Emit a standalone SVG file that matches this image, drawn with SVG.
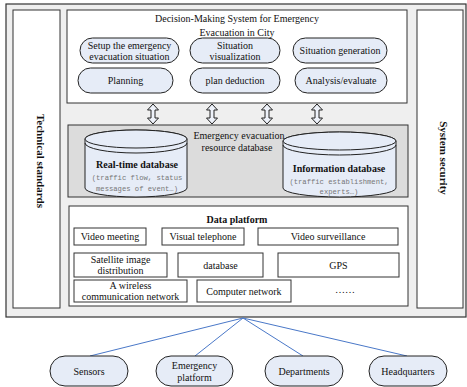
<svg xmlns="http://www.w3.org/2000/svg" xmlns:xlink="http://www.w3.org/1999/xlink" width="467" height="387" viewBox="0 0 467 387">
<style>
text{font-family:"Liberation Serif","Times New Roman",serif;fill:#111;}
.t{font-size:10px;text-anchor:middle;}
.b{font-weight:bold;}
.m{font-family:"Liberation Mono","Courier New",monospace;font-size:7.2px;fill:#777;text-anchor:middle;}
.box{fill:#fff;stroke:#333;stroke-width:1;}
.ov{fill:#e6ecf7;stroke:#222;stroke-width:1;}
.cyl{fill:#e6ecf7;stroke:#222;stroke-width:1;}
.conn{stroke:#4a78c8;stroke-width:1;fill:none;}
.arr{fill:#eef2fa;stroke:#222;stroke-width:1;}
</style>
<defs>
<path id="dbl" class="arr" d="M0,0 L5.5,6 L2,6 L2,14 L5.5,14 L0,20 L-5.5,14 L-2,14 L-2,6 L-5.5,6 Z"/>
</defs>

<g id="frame">
<rect x="6" y="4" width="460" height="313" fill="#efefef" stroke="#333" stroke-width="1.2"/>
</g>

<g id="technical-standards">
<rect class="box" x="13" y="10" width="47" height="298"/>
<text class="t b" font-size="11" transform="translate(37,161) rotate(90)" style="font-size:11px">Technical standards</text>
</g>

<g id="system-security">
<rect class="box" x="417" y="10" width="46" height="298"/>
<text class="t b" transform="translate(440,158) rotate(90)" style="font-size:11px">System security</text>
</g>

<g id="decision-system">
<rect class="box" x="67" y="10" width="340" height="93"/>
<text class="t" x="237" y="22">Decision-Making System for Emergency</text>
<text class="t" x="237" y="36">Evacuation in City</text>
</g>

<g id="setup">
<rect class="ov" x="80" y="38" width="99" height="25" rx="12.5"/>
<text class="t" x="129.5" y="48.5">Setup the emergency</text>
<text class="t" x="129.5" y="59.5">evacuation situation</text>
</g>
<g id="visualization">
<rect class="ov" x="190" y="38" width="90" height="25" rx="12.5"/>
<text class="t" x="235" y="48.5">Situation</text>
<text class="t" x="235" y="59.5">visualization</text>
</g>
<g id="generation">
<rect class="ov" x="293" y="38" width="94" height="25" rx="12.5"/>
<text class="t" x="340" y="54">Situation generation</text>
</g>
<g id="planning">
<rect class="ov" x="78" y="68" width="95" height="25" rx="12.5"/>
<text class="t" x="125.5" y="84">Planning</text>
</g>
<g id="deduction">
<rect class="ov" x="190" y="68" width="90" height="25" rx="12.5"/>
<text class="t" x="235" y="84">plan deduction</text>
</g>
<g id="analysis">
<rect class="ov" x="295" y="68" width="92" height="25" rx="12.5"/>
<text class="t" x="341" y="84">Analysis/evaluate</text>
</g>

<g id="resource-db">
<rect x="68" y="125" width="340" height="72" fill="#dcdcdc" stroke="#333" stroke-width="1"/>
</g>

<g id="realtime-db">
<path class="cyl" d="M85,139 L85,188 A51,9 0 0 0 187,188 L187,139 A51,9 0 0 0 85,139 Z"/>
<ellipse class="cyl" cx="136" cy="139" rx="51" ry="9"/>
<path d="M85,143 A51,10 0 0 0 187,143" fill="none" stroke="#222" stroke-width="1"/>
<text class="t b" x="137" y="168">Real-time database</text>
<text class="m" x="137" y="180">(traffic flow, status</text>
<text class="m" x="137" y="191">messages of event…)</text>
</g>

<g id="information-db">
<path class="cyl" d="M283,141 L283,188 A56.5,9 0 0 0 396,188 L396,141 A56.5,9 0 0 0 283,141 Z"/>
<ellipse class="cyl" cx="339.5" cy="141" rx="56.5" ry="9"/>
<path d="M283,145 A56.5,10 0 0 0 396,145" fill="none" stroke="#222" stroke-width="1"/>
<text class="t b" x="339" y="172">Information database</text>
<text class="m" x="339" y="184">(traffic establishment,</text>
<text class="m" x="339" y="194">experts…)</text>
</g>

<g id="resource-label">
<text class="t" x="239" y="139">Emergency evacuation</text>
<text class="t" x="237" y="151">resource database</text>
</g>

<g id="data-platform">
<rect class="box" x="69" y="206" width="339" height="100"/>
<text class="t b" x="237" y="223">Data platform</text>
</g>
<g id="video-meeting"><rect class="box" x="74" y="228" width="72" height="17"/><text class="t" x="110" y="240">Video meeting</text></g>
<g id="visual-telephone"><rect class="box" x="162" y="228" width="82" height="17"/><text class="t" x="203" y="240">Visual telephone</text></g>
<g id="video-surveillance"><rect class="box" x="258" y="228" width="140" height="17"/><text class="t" x="328" y="240">Video surveillance</text></g>
<g id="satellite"><rect class="box" x="74" y="253" width="93" height="24"/><text class="t" x="120.5" y="263">Satellite image</text><text class="t" x="120.5" y="274">distribution</text></g>
<g id="database"><rect class="box" x="178" y="253" width="85" height="24"/><text class="t" x="220.5" y="268.5">database</text></g>
<g id="gps"><rect class="box" x="278" y="253" width="121" height="24"/><text class="t" x="338.5" y="268.5">GPS</text></g>
<g id="wireless"><rect class="box" x="74" y="280" width="113" height="22"/><text class="t" x="130.5" y="289">A wireless</text><text class="t" x="130.5" y="300">communication network</text></g>
<g id="computer-network"><rect class="box" x="197" y="280" width="94" height="22"/><text class="t" x="244" y="294.5">Computer network</text></g>
<g id="etc"><text class="t" x="345" y="293">……</text></g>

<g id="arrows">
<use xlink:href="#dbl" href="#dbl" x="153" y="104"/>
<use xlink:href="#dbl" href="#dbl" x="212" y="104"/>
<use xlink:href="#dbl" href="#dbl" x="267" y="104"/>
<use xlink:href="#dbl" href="#dbl" x="317" y="104"/>
</g>

<g id="connectors">
<line class="conn" x1="243" y1="318" x2="90" y2="356"/>
<line class="conn" x1="243" y1="318" x2="195" y2="356"/>
<line class="conn" x1="243" y1="318" x2="303" y2="356"/>
<line class="conn" x1="243" y1="318" x2="407" y2="356"/>
</g>

<g id="sensors"><rect class="ov" x="50" y="356" width="78" height="30" rx="15"/><text class="t" x="89" y="374.5">Sensors</text></g>
<g id="emergency-platform"><rect class="ov" x="156" y="356" width="77" height="30" rx="15"/><text class="t" x="194.5" y="368.5">Emergency</text><text class="t" x="194.5" y="380.5">platform</text></g>
<g id="departments"><rect class="ov" x="265" y="356" width="78" height="30" rx="15"/><text class="t" x="304" y="374.5">Departments</text></g>
<g id="headquarters"><rect class="ov" x="369" y="356" width="78" height="30" rx="15"/><text class="t" x="408" y="374.5">Headquarters</text></g>
</svg>
